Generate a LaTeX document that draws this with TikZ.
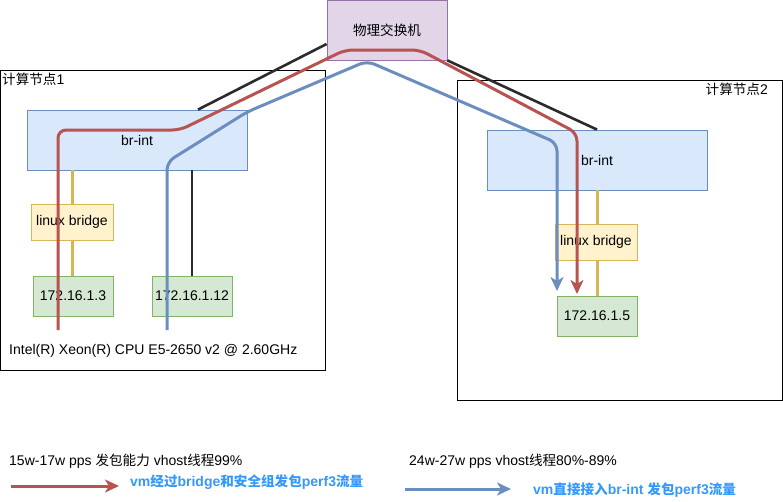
\documentclass[tikz,border=0pt]{standalone}
\usepackage{fontspec}
\setmainfont{Liberation Sans}
\newfontfamily\cjk[Scale=0.97]{Noto Sans CJK SC}
\newcommand{\zh}[1]{{\cjk #1}}
\usetikzlibrary{positioning}
\usetikzlibrary{arrows.meta}

\definecolor{brfill}{HTML}{DAE8FC}
\definecolor{brline}{HTML}{6C8EBF}
\definecolor{lbfill}{HTML}{FFF2CC}
\definecolor{lbline}{HTML}{D6B656}
\definecolor{vmfill}{HTML}{D5E8D4}
\definecolor{vmline}{HTML}{82B366}
\definecolor{swfill}{HTML}{E1D5E7}
\definecolor{swline}{HTML}{9673A6}
\definecolor{redflow}{HTML}{B85450}
\definecolor{blueflow}{HTML}{6C8EBF}
\definecolor{wire}{HTML}{2B2B2B}
\definecolor{legendblue}{HTML}{3399FF}

\tikzset{
  txt/.style={font=\fontsize{14}{16}\selectfont},
  box/.style={txt, draw, line width=0.8pt, inner sep=0pt},
  host/.style={draw, line width=1pt, inner sep=0pt},
  brbox/.style={box, fill=brfill, draw=brline, minimum width=220pt, minimum height=60pt},
  lbbox/.style={box, fill=lbfill, draw=lbline, minimum width=82pt, minimum height=36pt},
  vmbox/.style={box, fill=vmfill, draw=vmline, minimum width=80pt, minimum height=40pt},
  swbox/.style={box, fill=swfill, draw=swline, minimum width=120pt, minimum height=60pt},
  wireline/.style={wire, line width=2.6pt},
  lbwire/.style={lbline, line width=3pt},
  flow/.style={line width=3pt, rounded corners=8pt, -{Stealth[length=14pt, width=13pt, inset=4pt]}},
  legendtxt/.style={font=\fontsize{14}{16}\selectfont, inner sep=0pt},
  keytxt/.style={font=\fontsize{14}{16}\selectfont\bfseries, inner sep=0pt, text=legendblue},
}

\begin{document}
\begin{tikzpicture}[x=1pt, y=-1pt]
\useasboundingbox (0,0) rectangle (783,501);

% compute nodes
\node[host, minimum width=325pt, minimum height=300pt] (hostA) at (162.5,220) {};
\node[host, minimum width=325pt, minimum height=320pt] (hostB) at (620,240) {};
\node[txt, anchor=north west, inner sep=0pt] (hostAlbl) at (2,73) {\zh{计算节点}1};
\node[txt, anchor=north east, inner sep=0pt] (hostBlbl) at (768,83) {\zh{计算节点}2};

% switch
\node[swbox] (sw) at (387,30) {\zh{物理交换机}};

% node 1
\node[brbox] (brA) at (137,140) {br-int};
\node[lbbox] (lbA) at (72,222) {linux bridge};
\node[vmbox] (vmA) at (73,296) {172.16.1.3};
\node[vmbox] (vmB) at (192,296) {172.16.1.12};
\node[txt, anchor=west, inner sep=0pt] (cpu) at (9,351) {Intel(R) Xeon(R) CPU E5-2650 v2 @ 2.60GHz};

% node 2
\node[brbox] (brB) at (597,160) {br-int};
\node[lbbox] (lbB) at (596,242) {linux bridge};
\node[vmbox] (vmC) at (597,316) {172.16.1.5};

% wires
\draw[lbwire] (lbA.north |- brA.south) -- (lbA.north);
\draw[lbwire] (lbA.south) -- (vmA.north -| lbA.south);
\draw[wireline] (vmB.north |- brA.south) -- (vmB.north);
\draw[lbwire] (brB.south) -- (lbB.north -| brB.south);
\draw[lbwire] (lbB.south -| vmC.north) -- (vmC.north);
\draw[wireline] ([xshift=61pt]brA.north) -- ([yshift=-14pt]sw.west);
\draw[wireline] (sw.south east) -- (brB.north);

% traffic
\coordinate (redS) at (58,330);
\coordinate (redE) at (577,294);
\coordinate (blueS) at (167,330);
\coordinate (blueE) at (557,291);
\draw[flow, redflow] (redS) -- (58,130) -- (180,130) -- (345,50) -- (420,50) -- (577,133) -- (redE);
\draw[flow, blueflow] (blueS) -- (167,162) -- (247,112) -- (367,61) -- (557,143) -- (blueE);

% legend
\node[legendtxt, anchor=west] (capA) at (9,461) {15w-17w pps \zh{发包能力} vhost\zh{线程}99\%};
\node[keytxt, anchor=west] (keyA) at (130,482) {vm\zh{经过}bridge\zh{和安全组发包}perf3\zh{流量}};
\coordinate (keyAs) at (11,486);
\coordinate (keyAe) at (119,486);
\draw[redflow, line width=3pt, -{Stealth[length=14pt, width=13pt, inset=4pt]}] (keyAs) -- (keyAe);

\node[legendtxt, anchor=west] (capB) at (409,461) {24w-27w pps vhost\zh{线程}80\%-89\%};
\node[keytxt, anchor=west] (keyB) at (533,490) {vm\zh{直接接入}br-int \zh{发包}perf3\zh{流量}};
\coordinate (keyBs) at (405,489);
\coordinate (keyBe) at (511,489);
\draw[blueflow, line width=3pt, -{Stealth[length=14pt, width=13pt, inset=4pt]}] (keyBs) -- (keyBe);
\end{tikzpicture}
\end{document}
